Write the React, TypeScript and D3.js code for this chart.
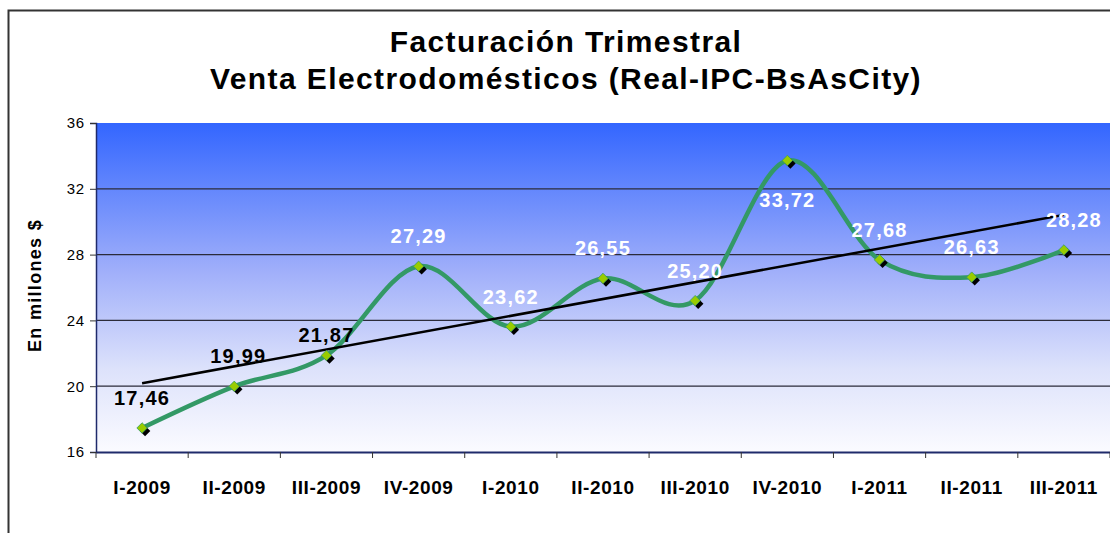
import { useEffect, useRef } from "react";
import * as d3 from "d3";

const quarters = [
  "I-2009", "II-2009", "III-2009", "IV-2009", "I-2010", "II-2010",
  "III-2010", "IV-2010", "I-2011", "II-2011", "III-2011",
];
const sales = [17.46, 19.99, 21.87, 27.29, 23.62, 26.55, 25.2, 33.72, 27.68, 26.63, 28.28];
const yTicks = [16, 20, 24, 28, 32, 36];

const W = 1110;
const H = 533;
const margin = { left: 96, right: 0, top: 123, bottom: 81 };
const FONT = "Arial, 'Liberation Sans', sans-serif";

export default function App() {
  const svgRef = useRef<SVGSVGElement>(null);

  useEffect(() => {
    const svg = d3.select(svgRef.current);
    svg.selectAll("*").remove();

    const x = d3
      .scaleBand()
      .domain(quarters)
      .range([margin.left, W - margin.right])
      .paddingInner(0)
      .paddingOuter(0);
    const y = d3.scaleLinear().domain([16, 36]).range([H - margin.bottom, margin.top]);
    const cx = (d: string) => (x(d) as number) + x.bandwidth() / 2;

    const defs = svg.append("defs");
    const grad = defs
      .append("linearGradient")
      .attr("id", "bg")
      .attr("x1", 0).attr("y1", 0).attr("x2", 0).attr("y2", 1);
    grad.append("stop").attr("offset", "0%").attr("stop-color", "#3366ff");
    grad.append("stop").attr("offset", "45%").attr("stop-color", "#a0affa");
    grad.append("stop").attr("offset", "75%").attr("stop-color", "#dde2fb");
    grad.append("stop").attr("offset", "100%").attr("stop-color", "#fbfbff");

    // white page + outer frame
    svg.append("rect").attr("width", W).attr("height", H).attr("fill", "#fff");
    svg
      .append("rect")
      .attr("x", 8.5).attr("y", 10.5)
      .attr("width", W + 20).attr("height", H + 20)
      .attr("fill", "none").attr("stroke", "#333").attr("stroke-width", 2);

    // titles
    const titles = ["Facturación Trimestral", "Venta Electrodomésticos (Real-IPC-BsAsCity)"];
    svg
      .append("g")
      .selectAll("text")
      .data(titles)
      .enter()
      .append("text")
      .attr("x", 566)
      .attr("y", (_, i) => 52 + i * 37)
      .attr("text-anchor", "middle")
      .style("font", `bold 30px ${FONT}`)
      .style("letter-spacing", "1.4px")
      .text((d) => d);

    // plot background
    svg
      .append("rect")
      .attr("x", margin.left).attr("y", margin.top)
      .attr("width", W - margin.left - margin.right)
      .attr("height", H - margin.top - margin.bottom)
      .attr("fill", "url(#bg)");

    // gridlines
    svg
      .append("g")
      .selectAll("line")
      .data(yTicks.slice(1, -1))
      .enter()
      .append("line")
      .attr("x1", margin.left).attr("x2", W)
      .attr("y1", (d) => y(d)).attr("y2", (d) => y(d))
      .attr("stroke", "#2b2b3a").attr("stroke-width", 1.2);

    // y axis
    const yAxis = svg
      .append("g")
      .attr("transform", `translate(${margin.left},0)`)
      .call(d3.axisLeft(y).tickValues(yTicks).tickSize(6).tickPadding(5));
    yAxis.select(".domain").attr("stroke", "#1f2a6b").attr("stroke-width", 1.5);
    yAxis.selectAll(".tick line").attr("stroke", "#333");
    yAxis
      .selectAll("text")
      .style("font", `15px ${FONT}`)
      .style("letter-spacing", "0.8px")
      .attr("fill", "#000");

    // x axis
    const xAxis = svg
      .append("g")
      .attr("transform", `translate(0,${H - margin.bottom})`)
      .call(d3.axisBottom(x).tickSize(0).tickPadding(29));
    xAxis.select(".domain").attr("stroke", "#1f2a6b").attr("stroke-width", 2);
    xAxis
      .selectAll("text")
      .style("font", `bold 19px ${FONT}`)
      .style("letter-spacing", "0.6px")
      .attr("fill", "#000");
    const bounds = quarters.map((q) => x(q) as number).concat([W - margin.right]);
    svg
      .append("g")
      .selectAll("line")
      .data(bounds)
      .enter()
      .append("line")
      .attr("x1", (d) => d).attr("x2", (d) => d)
      .attr("y1", H - margin.bottom).attr("y2", H - margin.bottom + 6)
      .attr("stroke", "#333");

    // axis title
    svg
      .append("text")
      .attr("transform", `translate(41,${(margin.top + H - margin.bottom) / 2 - 2}) rotate(-90)`)
      .attr("text-anchor", "middle")
      .style("font", `bold 18px ${FONT}`)
      .style("letter-spacing", "1.3px")
      .text("En millones $");

    // linear trend (least squares)
    const xs = sales.map((_, i) => i + 1);
    const mx = d3.mean(xs) as number;
    const my = d3.mean(sales) as number;
    const slope =
      d3.sum(xs, (xi, i) => (xi - mx) * (sales[i] - my)) / d3.sum(xs, (xi) => (xi - mx) ** 2);
    const trend = (i: number) => my + slope * (i + 1 - mx);

    // smoothed line
    const line = d3
      .line<number>()
      .x((_, i) => cx(quarters[i]))
      .y((d) => y(d))
      .curve(d3.curveCardinal.tension(0));
    svg
      .append("path")
      .datum(sales)
      .attr("d", line)
      .attr("fill", "none")
      .attr("stroke", "#339966")
      .attr("stroke-width", 4.5);

    svg
      .append("line")
      .attr("x1", cx(quarters[0])).attr("y1", y(trend(0)))
      .attr("x2", cx(quarters[quarters.length - 1]))
      .attr("y2", y(trend(quarters.length - 1)))
      .attr("stroke", "#000").attr("stroke-width", 2.5);

    // markers
    const diamond = d3.symbol().type(d3.symbolDiamond2).size(70);
    const marks = svg.append("g");
    sales.forEach((v, i) => {
      const px = cx(quarters[i]);
      const py = y(v);
      marks
        .append("path")
        .attr("d", diamond())
        .attr("transform", `translate(${px + 3},${py + 3})`)
        .attr("fill", "#000");
      marks
        .append("path")
        .attr("d", diamond())
        .attr("transform", `translate(${px},${py})`)
        .attr("fill", "#99cc00")
        .attr("stroke", "#339966")
        .attr("stroke-width", 0.8);
    });

    // value labels
    const maxV = d3.max(sales) as number;
    svg
      .append("g")
      .selectAll("text")
      .data(sales)
      .enter()
      .append("text")
      .attr("x", (_, i) => cx(quarters[i]) + (i === 1 ? 4 : i === sales.length - 1 ? 10 : 0))
      .attr("y", (d, i) => (d === maxV ? y(d) + 46 : y(d) - (i === 2 ? 13 : 23)))
      .attr("text-anchor", "middle")
      .attr("fill", (_, i) => (i < 3 ? "#000" : "#fff"))
      .style("font", `bold 20px ${FONT}`)
      .style("letter-spacing", "1.2px")
      .text((d) => d.toFixed(2).replace(".", ","));
  }, []);

  return (
    <svg
      ref={svgRef}
      width={W}
      height={H}
      style={{ position: "absolute", left: 0, top: 0 }}
    />
  );
}
